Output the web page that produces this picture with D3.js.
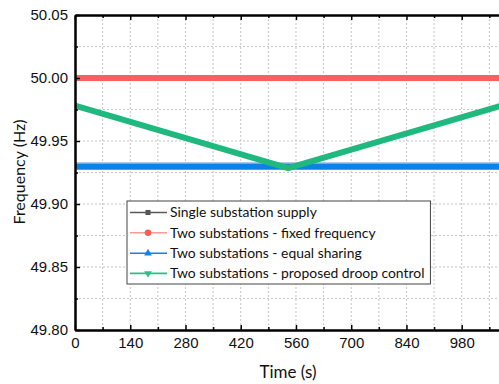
<!DOCTYPE html>
<html><head><meta charset="utf-8">
<script src="https://cdn.jsdelivr.net/npm/d3@7"></script>
<style>body{margin:0;background:#fff;}svg{display:block;}</style>
</head><body>
<svg id="chart" width="499" height="384"></svg>
<script>
// ---- data ----
const time = [0, 540, 1080];
const singleSupply = [49.930, 49.930, 49.930];
const fixedFrequency = [50.000, 50.000, 50.000];
const equalSharing = [49.9295, 49.9295, 49.9295];
const droopControl = [49.978, 49.9285, 49.978];
const xTicks = [0, 140, 280, 420, 560, 700, 840, 980];
const yTicks = [49.80, 49.85, 49.90, 49.95, 50.00, 50.05];
const seriesNames = ["Single substation supply", "Two substations - fixed frequency",
  "Two substations - equal sharing", "Two substations - proposed droop control"];

const svg = d3.select("#chart");
const L = 75, R = 499, T = 15, B = 330;
const x = d3.scaleLinear().domain([0, 1074.5]).range([L, R]);
const y = d3.scaleLinear().domain([49.80, 50.05]).range([B, T]);

const xMinor = d3.range(70, 1075, 140);
const yMinor = [49.825, 49.875, 49.925, 49.975, 50.025];

// grid
const g = svg.append("g");
[...xTicks.slice(1), ...xMinor].forEach(v => {
  g.append("line").attr("x1", x(v)).attr("x2", x(v)).attr("y1", T).attr("y2", B)
    .attr("stroke", "#c4c4c4").attr("stroke-width", 1).attr("stroke-dasharray", "2,2");
});
[...yTicks.slice(1, -1), ...yMinor].forEach(v => {
  g.append("line").attr("x1", L).attr("x2", R).attr("y1", y(v)).attr("y2", y(v))
    .attr("stroke", "#c4c4c4").attr("stroke-width", 1).attr("stroke-dasharray", "2,2");
});

// clip
svg.append("clipPath").attr("id", "clip").append("rect")
  .attr("x", L).attr("y", T).attr("width", R - L).attr("height", B - T);

const line = d3.line().x((d, i) => x(time[i])).y(d => y(d));
const series = [
  {vals: singleSupply, color: "#9ab8d8"},
  {vals: fixedFrequency, color: "#f8615a"},
  {vals: equalSharing, color: "#0d82e6"},
  {vals: droopControl, color: "#1fb97f"}
];
const lg = svg.append("g").attr("clip-path", "url(#clip)");
series.forEach((s, i) => {
  lg.append("path").datum(s.vals).attr("d", line).attr("fill", "none")
    .attr("stroke", s.color).attr("stroke-width", i === 0 ? 6.5 : 6)
    .attr("transform", i === 0 ? "translate(0,-0.8)" : null);
});

// axes
const xAxisB = d3.axisBottom(x).tickValues(xTicks).tickSizeInner(-5).tickSizeOuter(0).tickPadding(7);
const xAxisBm = d3.axisBottom(x).tickValues(xMinor).tickSizeInner(-3).tickSizeOuter(0).tickFormat("");
const xAxisT = d3.axisTop(x).tickValues(xTicks).tickSizeInner(-5).tickSizeOuter(0).tickFormat("");
const xAxisTm = d3.axisTop(x).tickValues(xMinor).tickSizeInner(-3).tickSizeOuter(0).tickFormat("");
const yAxisL = d3.axisLeft(y).tickValues(yTicks).tickSizeInner(-5).tickSizeOuter(0).tickPadding(7).tickFormat(d3.format(".2f"));
const yAxisLm = d3.axisLeft(y).tickValues(yMinor).tickSizeInner(-3).tickSizeOuter(0).tickFormat("");

function style(sel) {
  sel.selectAll(".domain").attr("stroke", "#000").attr("stroke-width", 2);
  sel.selectAll(".tick line").attr("stroke", "#000").attr("stroke-width", 1.5);
  sel.selectAll("text").attr("font-family", "'Liberation Sans', Arial, sans-serif")
    .attr("font-size", 15).attr("fill", "#111");
}
svg.append("g").attr("transform", `translate(0,${B})`).call(xAxisBm).call(style);
svg.append("g").attr("transform", `translate(0,${B})`).call(xAxisB).call(style);
svg.append("g").attr("transform", `translate(0,${T})`).call(xAxisTm).call(style);
svg.append("g").attr("transform", `translate(0,${T})`).call(xAxisT).call(style);
svg.append("g").attr("transform", `translate(${L},0)`).call(yAxisLm).call(style);
svg.append("g").attr("transform", `translate(${L},0)`).call(yAxisL).call(style);

// axis titles
svg.append("text").attr("x", 288).attr("y", 378).attr("text-anchor", "middle")
  .attr("font-family", "Lato, 'Open Sans', sans-serif").attr("font-size", 17).attr("fill", "#111")
  .text("Time (s)");
svg.append("text").attr("transform", "translate(25,172) rotate(-90)").attr("text-anchor", "middle")
  .attr("font-family", "Lato, 'Open Sans', sans-serif").attr("font-size", 16).attr("fill", "#111")
  .text("Frequency (Hz)");

// legend
const legendColors = ["#5a5a5a", "#f99a96", "#1581e3", "#2dbf8a"];
const markers = [d3.symbolSquare, d3.symbolCircle, d3.symbolTriangle, d3.symbolTriangle];
const leg = svg.append("g");
const rowY = [212.5, 232.8, 253.2, 273.4];
const texts = [];
seriesNames.forEach((name, i) => {
  leg.append("line").attr("x1", 130).attr("x2", 167).attr("y1", rowY[i]).attr("y2", rowY[i])
    .attr("stroke", legendColors[i]).attr("stroke-width", 1.6);
  leg.append("path").attr("d", d3.symbol().type(markers[i]).size(i === 1 ? 34 : 26)())
    .attr("transform", `translate(148,${rowY[i]})` + (i === 3 ? " rotate(180)" : ""))
    .attr("fill", i === 0 ? "#555" : (i === 1 ? "#f2605a" : legendColors[i]));
  texts.push(leg.append("text").attr("x", 170).attr("y", rowY[i] + 4.8)
    .attr("font-family", "Lato, 'Open Sans', sans-serif").attr("font-size", 13).attr("fill", "#111")
    .text(name));
});
// fit font size so first label width ~147px
const w0 = texts[0].node().getComputedTextLength();
const fs = 13 * 147 / w0;
texts.forEach(t => t.attr("font-size", fs));
const maxW = d3.max(texts, t => t.node().getComputedTextLength());
leg.insert("rect", ":first-child").attr("x", 127).attr("y", 201).attr("width", 170 + maxW + 6 - 127)
  .attr("height", 83).attr("fill", "#fff").attr("stroke", "#444").attr("stroke-width", 1);
</script>
</body></html>
